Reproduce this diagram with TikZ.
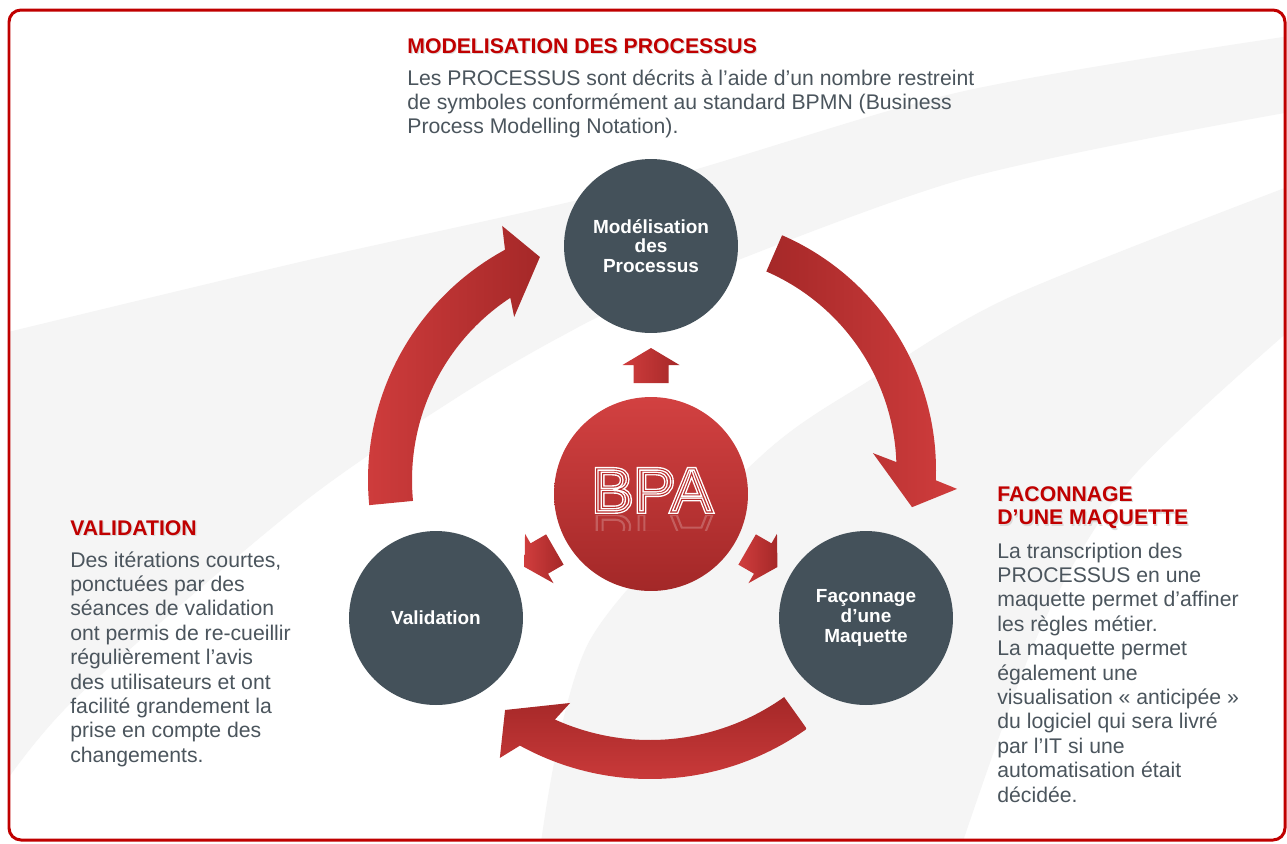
\documentclass[tikz,border=0pt]{standalone}
\usepackage{fontspec}
\setmainfont{Liberation Sans}
\usetikzlibrary{calc}
\definecolor{framered}{HTML}{C00000}
\definecolor{headred}{HTML}{C00000}
\definecolor{bodygray}{HTML}{4B555D}
\definecolor{circgray}{HTML}{44515A}
\definecolor{arrlight}{HTML}{D03D3D}
\definecolor{arrdark}{HTML}{A52828}
\definecolor{bgband}{HTML}{F5F5F5}
\definecolor{bpatop}{HTML}{D24141}
\definecolor{bpabot}{HTML}{A32828}
\newcommand{\bodyfont}{\fontsize{12.07pt}{13.9pt}\selectfont}
\newcommand{\headfont}{\fontsize{12.07pt}{13.6pt}\selectfont\bfseries}
\newcommand{\circfont}{\fontsize{10.8pt}{11.2pt}\selectfont\bfseries}
\newcommand{\bpafont}{\fontsize{35.7pt}{40pt}\selectfont}
\newcommand{\outlined}[3]{\special{pdf:literal direct #1 RG #2 w 1 Tr}#3\special{pdf:literal direct 0 Tr}}
\begin{document}
\begin{tikzpicture}[x=0.02cm, y=-0.02cm,
  graycirc/.style={circle, fill=circgray, minimum size=3.48cm, inner sep=0pt, text=white, font=\circfont, align=center},
  bpacirc/.style={circle, minimum size=3.88cm, inner sep=0pt, top color=bpatop, bottom color=bpabot},
  headtxt/.style={anchor=base west, inner sep=0pt, text=headred, font=\headfont},
  headshadow/.style={anchor=base west, inner sep=0pt, text=black!14, font=\headfont},
  bodytxt/.style={anchor=base west, inner sep=0pt, text=bodygray, font=\bodyfont},
  bpatext/.style={anchor=base, inner sep=0pt, font=\bpafont},
  smallarrow/.style={left color=arrlight, right color=arrdark},
]
\useasboundingbox (0,0) rectangle (1287,843);
\fill[white] (0,0) rectangle (1287,843);
% background swoosh bands
\begin{scope}
\clip[rounded corners=0.24cm] (9,10) rectangle (1285,840);
\fill[bgband] plot[smooth] coordinates {(0,334) (300,262) (640,185) (960,92) (1290,36)}
  -- (1290,112)
  -- plot[smooth] coordinates {(1290,112) (960,180) (650,295) (560,337) (453,400) (300,505) (77,697) (0,790)}
  -- cycle;
\fill[bgband] plot[smooth] coordinates {(1290,186) (1010,297) (870,380) (760,457) (590,640) (540,850)}
  -- (960,850)
  -- plot[smooth] coordinates {(960,850) (1040,630) (1130,480) (1290,330)}
  -- cycle;
\end{scope}
\draw[framered, line width=1.7pt, rounded corners=0.24cm] (9,10) rectangle (1285,840);

% circles
\node[graycirc] (mod) at (651,246) {Modélisation\\des\\Processus};
\node[graycirc] (val) at (436,618) {Validation};
\node[graycirc] (fac) at (866,618) {Façonnage\\d’une\\Maquette};
\node[bpacirc] (bpa) at (651,494) {};

% BPA lettering
\node[bpatext] (bpaw) at (652,512) {\outlined{1 1 1}{2.2}{BPA}};
\node[bpatext] (bpar) at (652,512) {\outlined{0.72 0.18 0.18}{0.6}{BPA}};
\begin{scope}
\clip (560,515) rectangle (745,530);
\node[bpatext, yscale=-1, transform shape, opacity=0.22] (bparefl) at (652,515) {\outlined{1 1 1}{1.2}{BPA}};
\end{scope}

% big curved arrows
\begin{scope}[shift={(630,480)}]
\path[left color=arrlight, right color=arrdark]
  (174.5:262) arc[start angle=174.5, end angle=241.5, radius=262]
  -- (243.3:284.4) -- (248:240.5) -- (234.6:200) -- (236.7:218)
  arc[start angle=236.7, end angle=174.5, radius=218] -- cycle;
\end{scope}
\begin{scope}[shift={(680,470)}]
\path[left color=arrdark, right color=arrlight]
  (-66.5:256) arc[start angle=-66.5, end angle=2.3, radius=256]
  -- (3.9:277.7) -- (9.1:235) -- (-5:193.7) -- (-2.1:216.5)
  arc[start angle=-2.1, end angle=-66.5, radius=216.5] -- cycle;
\end{scope}
\begin{scope}[shift={(650,509)}]
\path[top color=arrdark, bottom color=arrlight]
  (54.5:270) arc[start angle=54.5, end angle=118.8, radius=270]
  -- (121.1:290.7) -- (125.8:247.8) -- (112.4:209.8) -- (114.3:231)
  arc[start angle=114.3, end angle=54.5, radius=231] -- cycle;
\end{scope}

% small arrows from BPA
\foreach \r in {90,-30,-150}{
\begin{scope}[shift={(bpa.center)}, rotate=\r]
\path[smallarrow] (111,-17.5) -- (129,-17.5) -- (129,-28.5) -- (146,0)
  -- (129,28.5) -- (129,17.5) -- (111,17.5) -- cycle;
\end{scope}}

% texts
\node[headshadow] (h1s) at (408.2,54.4) {MODELISATION DES PROCESSUS};
\node[headtxt] (h1) at (407,53) {MODELISATION DES PROCESSUS};
\node[bodytxt] (b1) at (407,85) {\parbox[t]{14cm}{\raggedright Les PROCESSUS sont décrits à l’aide d’un nombre restreint\\de symboles conformément au standard BPMN (Business\\Process Modelling Notation).}};

\node[headshadow] (h2s) at (71.2,536.4) {VALIDATION};
\node[headtxt] (h2) at (70,535) {VALIDATION};
\node[bodytxt] (b2) at (70,567) {\parbox[t]{8cm}{\raggedright Des itérations courtes,\\ponctuées par des\\séances de validation\\ont permis de re-cueillir\\régulièrement l’avis\\des utilisateurs et ont\\facilité grandement la\\prise en compte des\\changements.}};

\node[headshadow] (h3s) at (998.2,502.4) {\parbox[t]{6cm}{\raggedright FACONNAGE\\D’UNE MAQUETTE}};
\node[headtxt] (h3) at (997,501) {\parbox[t]{6cm}{\raggedright FACONNAGE\\D’UNE MAQUETTE}};
\node[bodytxt] (b3) at (997,558) {\parbox[t]{7cm}{\raggedright La transcription des\\PROCESSUS en une\\maquette permet d’affiner\\les règles métier.\\La maquette permet\\également une\\visualisation « anticipée »\\du logiciel qui sera livré\\par l’IT si une\\automatisation était\\décidée.}};
\end{tikzpicture}
\end{document}
